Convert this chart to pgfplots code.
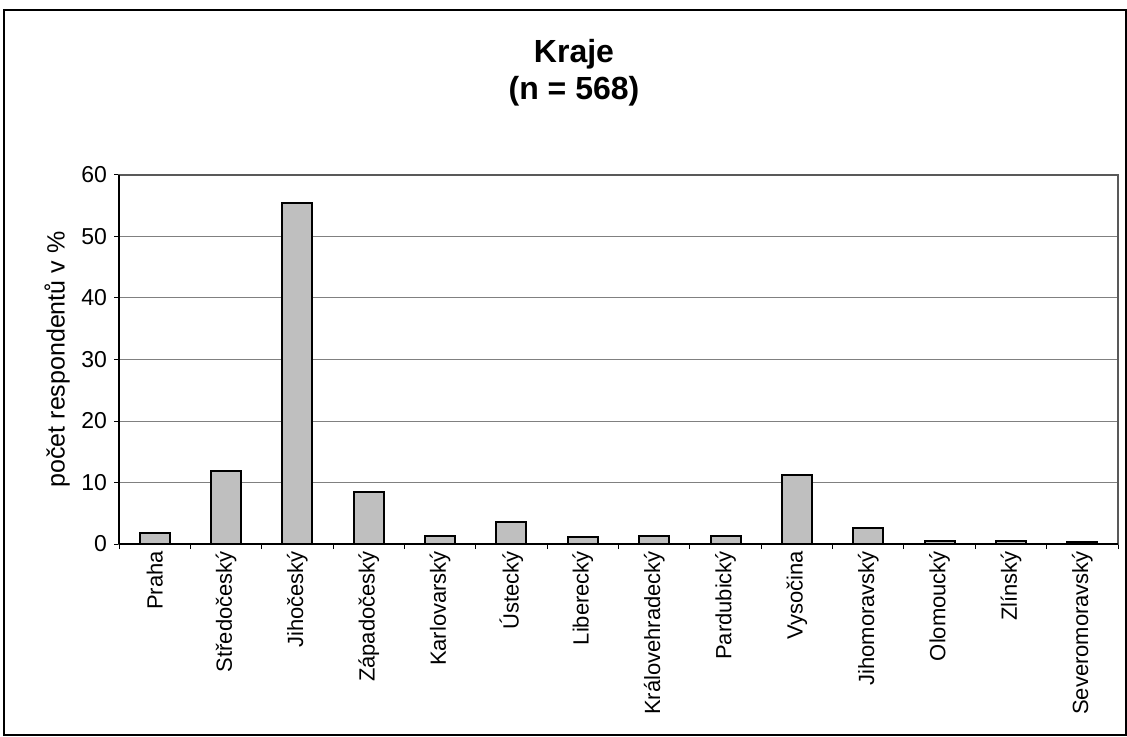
\documentclass[border=0pt]{standalone}
\usepackage{fontspec}
\setmainfont{Liberation Sans}
\usepackage{pgfplots}
\pgfplotsset{compat=1.18}
\begin{document}
\begin{tikzpicture}
\useasboundingbox (-59.5pt,-96.5pt) rectangle (504pt,272pt);
\draw[black, line width=0.6pt] (-57.5pt,-95.5pt) rectangle (503.5pt,267pt);
\node[anchor=base, font=\fontsize{16}{18.5}\selectfont\bfseries] at (227.5pt,240.5pt) {Kraje};
\node[anchor=base, font=\fontsize{16}{18.5}\selectfont\bfseries] at (227.5pt,222pt) {(n = 568)};
\begin{axis}[
  at={(0pt,0pt)}, anchor=south west,
  scale only axis, width=499.5pt, height=184.5pt,
  xmin=-0.5, xmax=13.5, ymin=0, ymax=60,
  ytick={0,10,...,60},
  xtick pos=bottom, ytick pos=left,
  ymajorgrids, grid style={gray, line width=0.5pt},
  axis line style={draw=gray!70!black, line width=0.6pt},
  tick align=outside, major tick length=2.5pt,
  tick style={black, line width=0.5pt},
  xtick={-0.5,0.5,1.5,2.5,3.5,4.5,5.5,6.5,7.5,8.5,9.5,10.5,11.5,12.5,13.5},
  xticklabels={},
  extra x ticks={0,1,2,3,4,5,6,7,8,9,10,11,12,13},
  extra x tick labels={Praha,Středočeský,Jihočeský,Západočeský,Karlovarský,Ústecký,Liberecký,Královehradecký,Pardubický,Vysočina,Jihomoravský,Olomoucký,Zlínský,Severomoravský},
  extra x tick style={major tick length=0pt, grid=none, xticklabel style={rotate=90, anchor=east, font=\fontsize{11}{13}\selectfont}},
  yticklabel style={font=\fontsize{11.5}{13}\selectfont},
  /pgf/number format/assume math mode=true,
  ylabel={počet respondentů v \%},
  ylabel style={font=\fontsize{12.5}{14}\selectfont, at={(axis description cs:-0.062,0.5)}, anchor=center},
  ybar, bar width=15pt,
  clip=false,
]
\addplot[fill=black!25, draw=black, line width=1pt] coordinates {
(0,1.8) (1,11.8) (2,55.5) (3,8.5) (4,1.3) (5,3.5) (6,1.2) (7,1.3) (8,1.3) (9,11.2) (10,2.6) (11,0.5) (12,0.5) (13,0.35)
};
\draw[black, line width=0.6pt] (rel axis cs:0,0) -- (rel axis cs:0,1);
\draw[black, line width=0.6pt] (rel axis cs:0,0) -- (rel axis cs:1,0);
\end{axis}
\end{tikzpicture}
\end{document}
